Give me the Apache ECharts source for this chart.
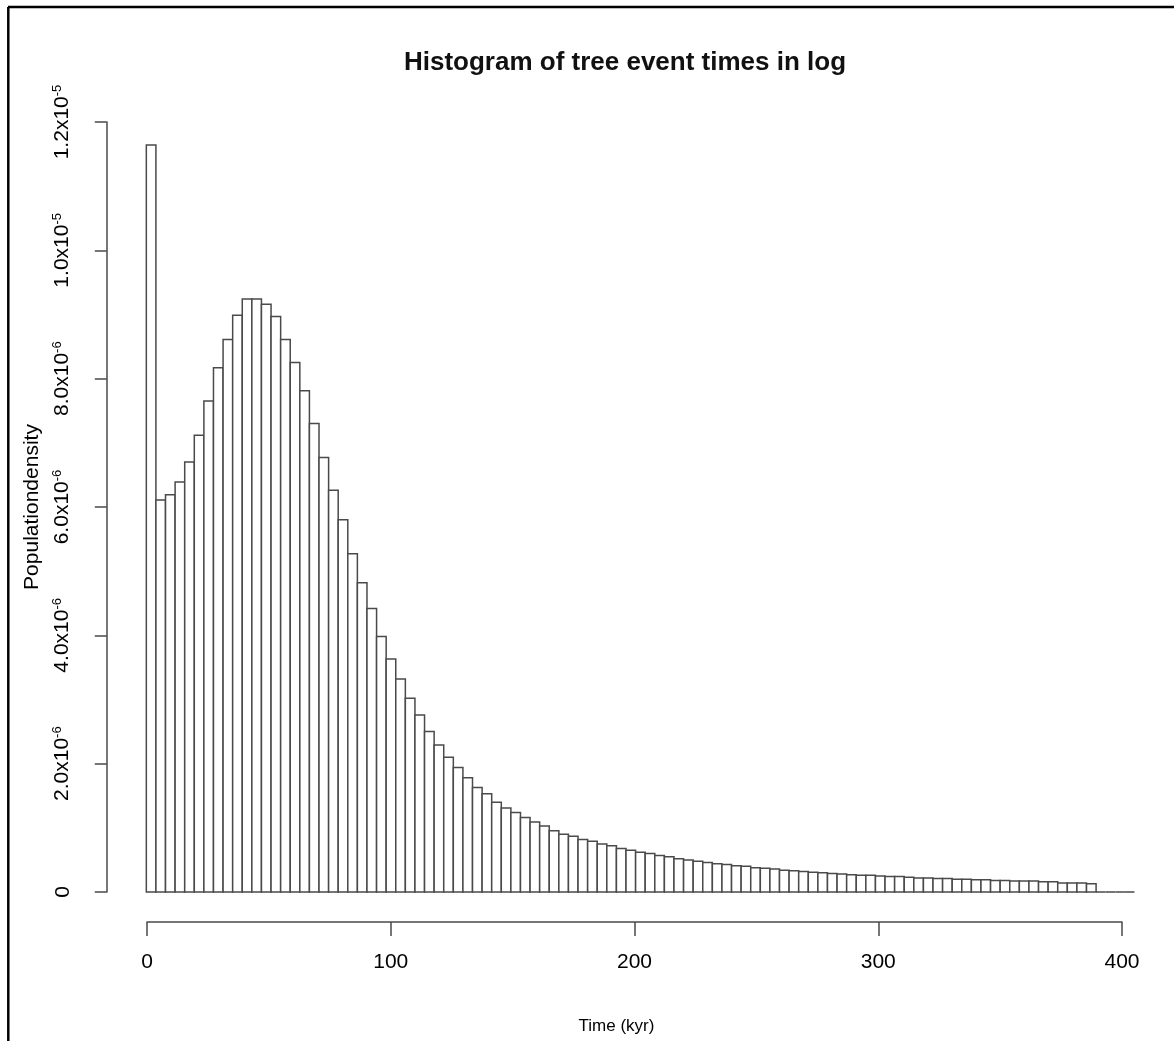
<!DOCTYPE html>
<html><head><meta charset="utf-8">
<script src="https://cdn.jsdelivr.net/npm/echarts@6/dist/echarts.min.js"></script>
<style>html,body{margin:0;padding:0;background:#fff}#c{width:1174px;height:1041px}</style>
</head><body><div id="c"></div>
<script>
// Histogram bins (kyr)
const binStartKyr = 0;
const binWidthKyr = 4;
// Density per bin, in units of 1e-6
const densityE6 = [
  11.64, 6.11, 6.19, 6.39, 6.70, 7.12, 7.65, 8.17, 8.61, 8.99,
  9.24, 9.24, 9.16, 8.97, 8.61, 8.25, 7.81, 7.30, 6.77, 6.26,
  5.80, 5.27, 4.82, 4.42, 3.98, 3.63, 3.32, 3.02, 2.76, 2.50,
  2.29, 2.10, 1.94, 1.78, 1.63, 1.53, 1.40, 1.31, 1.24, 1.16,
  1.09, 1.03, 0.955, 0.90, 0.87, 0.82, 0.79, 0.75, 0.72, 0.68,
  0.65, 0.62, 0.60, 0.57, 0.55, 0.52, 0.50, 0.48, 0.46, 0.44,
  0.43, 0.41, 0.40, 0.38, 0.37, 0.36, 0.34, 0.33, 0.32, 0.31,
  0.30, 0.29, 0.28, 0.27, 0.26, 0.26, 0.25, 0.24, 0.24, 0.23,
  0.22, 0.22, 0.21, 0.21, 0.20, 0.20, 0.19, 0.19, 0.18, 0.18,
  0.17, 0.17, 0.17, 0.16, 0.16, 0.14, 0.14, 0.14, 0.13,
  0, 0, 0, 0
];
const xTickValues = [0, 100, 200, 300, 400];
const yTickValuesE6 = [0, 2, 4, 6, 8, 10, 12];
const yTickMantissa = ['0', '2.0', '4.0', '6.0', '8.0', '1.0', '1.2'];
const yTickExponent = ['', '-6', '-6', '-6', '-6', '-5', '-5'];

const titleText = 'Histogram of tree event times in log';
const xName = 'Time (kyr)';
const yName = 'Populationdensity';

const bins = densityE6.map((v, i) => [binStartKyr + i * binWidthKyr, binStartKyr + (i + 1) * binWidthKyr, v]);

const FONT = "'Liberation Sans', Arial, sans-serif";
const LINE = '#4a4a4a';

const chart = echarts.init(document.getElementById('c'), null, {renderer: 'canvas'});
chart.setOption({
  animation: false,
  backgroundColor: '#fff',
  grid: [
    {left: 106.8, top: 115.2, width: 1084.6, height: 806.7},
    {left: 147, top: 115.2, width: 975, height: 806.7},
    {left: 106.8, top: 122, width: 100, height: 770}
  ],
  xAxis: [
    {gridIndex: 0, type: 'value', min: -16.48, max: 428.48, show: false},
    {gridIndex: 1, type: 'value', min: 0, max: 400, interval: 100,
      axisLine: {show: true, lineStyle: {color: LINE, width: 1.5}},
      axisTick: {show: true, length: 14, lineStyle: {color: LINE, width: 1.5}},
      axisLabel: {margin: 30, fontSize: 21, color: '#000', fontFamily: FONT,
        formatter: v => xTickValues.includes(v) ? String(v) : ''},
      splitLine: {show: false},
      name: xName, nameLocation: 'middle', nameGap: 96,
      nameTextStyle: {fontSize: 17, color: '#000', fontFamily: FONT, padding: [0, 36, 0, 0]}
    },
    {gridIndex: 2, type: 'value', show: false}
  ],
  yAxis: [
    {gridIndex: 0, type: 'value', min: -0.4656, max: 12.1056, show: false},
    {gridIndex: 1, type: 'value', show: false},
    {gridIndex: 2, type: 'value', min: 0, max: 12, interval: 2,
      axisLine: {show: true, lineStyle: {color: LINE, width: 1.5}},
      axisTick: {show: true, length: 12, lineStyle: {color: LINE, width: 1.5}},
      splitLine: {show: false},
      axisLabel: {
        rotate: 90, margin: 33, color: '#000', fontFamily: FONT, fontSize: 21,
        formatter: v => {
          const i = yTickValuesE6.indexOf(v);
          if (i < 0) return '';
          if (!yTickExponent[i]) return '{m|' + yTickMantissa[i] + '}';
          return '{m|' + yTickMantissa[i] + 'x10}{e|' + yTickExponent[i] + '}';
        },
        rich: {
          m: {fontSize: 21, fontFamily: FONT, color: '#000'},
          e: {fontSize: 13, fontFamily: FONT, color: '#000', verticalAlign: 'bottom', padding: [0, 0, 10, 0]}
        }
      },
      name: yName, nameLocation: 'middle', nameGap: 64,
      nameTextStyle: {fontSize: 21, color: '#000', fontFamily: FONT}
    }
  ],
  graphic: [
    {type: 'line', shape: {x1: 8, y1: 7, x2: 1174, y2: 7}, style: {stroke: '#000', lineWidth: 2.5}},
    {type: 'line', shape: {x1: 8.3, y1: 7, x2: 8.3, y2: 1041}, style: {stroke: '#000', lineWidth: 2.5}},
    {type: 'text', x: 625, y: 63, style: {text: titleText, fontSize: 26, fontWeight: 'bold', fontFamily: FONT,
      fill: '#111', textAlign: 'center', textVerticalAlign: 'middle'}}
  ],
  series: [{
    type: 'custom',
    xAxisIndex: 0, yAxisIndex: 0,
    data: bins,
    encode: {x: [0, 1], y: 2},
    clip: false,
    renderItem: function (params, api) {
      const x0 = api.value(0), x1 = api.value(1), v = api.value(2);
      const p0 = api.coord([x0, v]);
      const p1 = api.coord([x1, 0]);
      return {
        type: 'rect',
        shape: {x: p0[0], y: p0[1], width: p1[0] - p0[0], height: p1[1] - p0[1]},
        style: {fill: '#fff', stroke: LINE, lineWidth: 1.5}
      };
    }
  }]
});
</script>
</body></html>
